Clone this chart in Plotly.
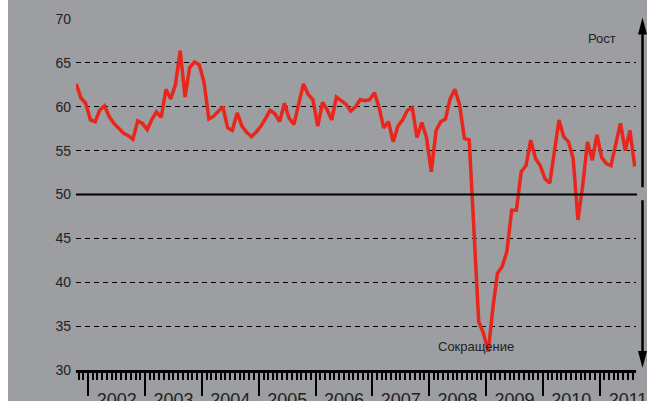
import plotly.graph_objects as go
import pandas as pd

# ---- data ----
start_month = "2001-10-01"
index_values = [
    62.6, 61.0, 60.4,
    58.5, 58.3, 59.6, 60.1, 58.9, 58.1, 57.5, 57.0, 56.7, 56.3, 58.4, 58.1,
    57.4, 58.6, 59.4, 58.8, 62.0, 60.9, 62.5, 66.4, 61.1, 64.5, 65.1, 64.8,
    62.8, 58.6, 58.9, 59.4, 60.0, 57.6, 57.3, 59.3, 57.8, 57.1, 56.6, 57.1,
    57.8, 58.7, 59.6, 59.2, 58.3, 60.4, 58.7, 58.0, 60.2, 62.6, 61.4, 60.8,
    57.8, 60.5, 59.7, 58.5, 61.1, 60.7, 60.3, 59.5, 60.0, 60.8, 60.7, 60.8,
    61.6, 59.8, 57.6, 58.3, 56.0, 57.8, 58.5, 59.6, 59.9, 56.5, 58.2, 56.5,
    52.6, 57.3, 58.3, 58.6, 60.9, 62.0, 60.2, 56.4, 56.2, 46.0, 35.5, 34.2,
    32.1, 37.2, 41.0, 41.8, 43.5, 48.2, 48.2, 52.6, 53.3, 56.2, 54.1, 53.3,
    51.8, 51.3, 54.9, 58.5, 56.6, 56.0, 54.1, 47.1, 51.1, 56.0, 53.9, 56.8,
    54.2, 53.5, 53.3, 55.8, 58.1, 55.0, 57.3, 53.2,
]
y_ticks = [30, 35, 40, 45, 50, 55, 60, 65, 70]
neutral_level = 50
label_up = "Рост"
label_down = "Сокращение"

dates = pd.date_range(start_month, periods=len(index_values), freq="MS") + pd.Timedelta(days=14)
x_range = ["2001-10-14", "2011-08-23"]

FONT = "Liberation Sans, Arial, Helvetica, sans-serif"
BG = "#9d9ea1"

fig = go.Figure()
fig.add_trace(go.Scatter(
    x=dates, y=index_values, mode="lines",
    line=dict(color="#e8261c", width=3.5),
    hoverinfo="skip", showlegend=False,
))
# helper trace so the overlay axis (long yearly ticks) is drawn
fig.add_trace(go.Scatter(
    x=[dates[0]], y=[None], xaxis="x2", mode="lines",
    hoverinfo="skip", showlegend=False,
))

OFFSET = 8            # white page margin on the left
W, H = 647 - OFFSET, 401
L, R, T, B = 76 - OFFSET, 11, 18.5, 31
pw, ph = W - L - R, H - T - B

def px(xp):  # page pixel -> paper coordinate
    return (xp - OFFSET - L) / pw

def py(yp):
    return (H - B - yp) / ph

shapes = []
# neutral level line
shapes.append(dict(type="line", xref="paper", yref="y",
                   x0=0, x1=px(637), y0=neutral_level, y1=neutral_level,
                   line=dict(color="black", width=2)))
# right-hand arrows
ax_x = px(642.5)
hw = 4.5 / pw
shapes.append(dict(type="line", xref="paper", yref="paper",
                   x0=ax_x, x1=ax_x, y0=py(30), y1=py(187),
                   line=dict(color="black", width=2.5)))
shapes.append(dict(type="path", xref="paper", yref="paper",
                   path=f"M {ax_x} {py(17)} L {ax_x - hw} {py(34)} L {ax_x + hw} {py(34)} Z",
                   fillcolor="black", line=dict(width=0)))
shapes.append(dict(type="line", xref="paper", yref="paper",
                   x0=ax_x, x1=ax_x, y0=py(200), y1=py(355),
                   line=dict(color="black", width=2.5)))
shapes.append(dict(type="path", xref="paper", yref="paper",
                   path=f"M {ax_x} {py(368)} L {ax_x - hw} {py(351)} L {ax_x + hw} {py(351)} Z",
                   fillcolor="black", line=dict(width=0)))

annotations = [
    dict(text=label_up, xref="paper", yref="paper", x=px(601.5), y=py(38),
         xanchor="center", yanchor="middle", showarrow=False,
         font=dict(family=FONT, size=13, color="#222222")),
    dict(text=label_down, xref="paper", yref="paper", x=px(476), y=py(346),
         xanchor="center", yanchor="middle", showarrow=False,
         font=dict(family=FONT, size=13, color="#222222")),
]

fig.update_layout(
    width=W, height=H,
    margin=dict(l=L, r=R, t=T, b=B, pad=0, autoexpand=False),
    paper_bgcolor=BG, plot_bgcolor=BG,
    font=dict(family=FONT, color="#222222"),
    showlegend=False,
    shapes=shapes,
    annotations=annotations,
    xaxis=dict(
        type="date", range=x_range, automargin=False,
        showgrid=False, zeroline=False,
        showline=True, linecolor="black", linewidth=2.5,
        ticks="outside", ticklen=12, tickwidth=1.5, tickcolor="black",
        dtick="M12", tick0="2002-01-01", tickformat="%Y",
        ticklabelmode="period", ticklabeloverflow="allow",
        tickfont=dict(family=FONT, size=18, color="#222222"),
        minor=dict(ticks="outside", ticklen=7, tickwidth=1.5, tickcolor="black",
                   dtick="M1", tick0="2002-01-01", showgrid=False),
        fixedrange=True,
    ),
    xaxis2=dict(
        type="date", range=x_range, overlaying="x", anchor="y", side="bottom",
        automargin=False,
        ticks="outside", ticklen=25, tickwidth=2.2, tickcolor="black",
        dtick="M12", tick0="2002-01-01",
        showticklabels=False, showgrid=False, zeroline=False, showline=False,
    ),
    yaxis=dict(
        range=[30, 70], tickvals=y_ticks, automargin=False,
        showgrid=True, gridcolor="black", griddash="5px,4px", gridwidth=1.3,
        zeroline=False, showline=False, ticks="",
        ticklabelstandoff=4,
        tickfont=dict(family=FONT, size=14, color="#222222"),
        fixedrange=True,
    ),
)

fig.write_html(
    "out.html",
    config={"displayModeBar": False},
    post_script=("document.body.style.margin='0 0 0 %dpx';"
                 "document.body.style.background='white';"
                 "document.body.style.overflow='hidden';") % OFFSET,
)
